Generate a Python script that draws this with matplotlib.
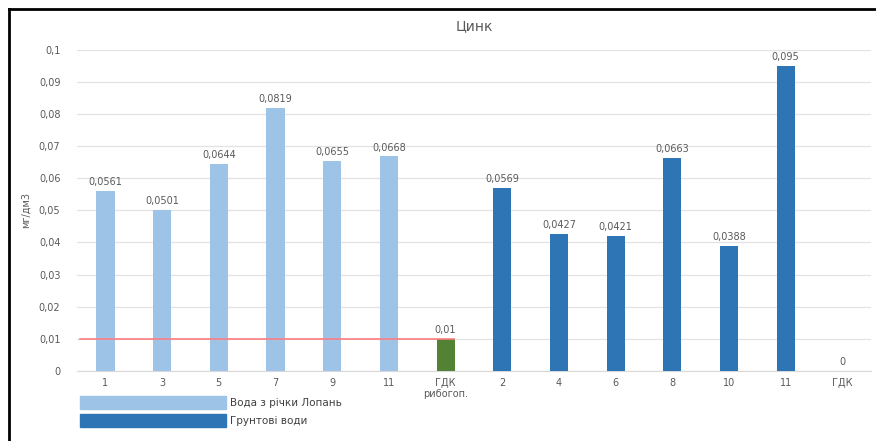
import matplotlib.pyplot as plt
from matplotlib.lines import Line2D
from matplotlib.patches import Patch

# data
categories = ['1', '3', '5', '7', '9', '11', 'ГДК\nрибогоп.',
              '2', '4', '6', '8', '10', '11', 'ГДК']
values = [0.0561, 0.0501, 0.0644, 0.0819, 0.0655, 0.0668, 0.01,
          0.0569, 0.0427, 0.0421, 0.0663, 0.0388, 0.095, 0]
labels = ['0,0561', '0,0501', '0,0644', '0,0819', '0,0655', '0,0668', '0,01',
          '0,0569', '0,0427', '0,0421', '0,0663', '0,0388', '0,095', '0']
group = ['river'] * 6 + ['gdk'] + ['ground'] * 6 + ['gdk']
gdk_level = 0.01

colors = {'river': '#9DC3E6', 'ground': '#2E75B6', 'gdk': '#548235'}
gray = '#595959'

fig = plt.figure(figsize=(8.76, 4.41), dpi=100)
ax = fig.add_axes([0.088, 0.159, 0.906, 0.728])

x = list(range(len(categories)))
bars = ax.bar(x, values, width=0.32, color=[colors[g] for g in group], zorder=3)

for xi, v, lab in zip(x, values, labels):
    ax.text(xi, v + 0.0012, lab, ha='center', va='bottom', fontsize=7, color=gray)

# red reference line for the river part
ax.plot([-0.45, 6.15], [gdk_level, gdk_level], color='#FF7C80', lw=1.2, zorder=4)

ax.set_xlim(-0.5, len(categories) - 0.5)
ax.set_ylim(0, 0.1)
yt = [i / 100 for i in range(11)]
ax.set_yticks(yt)
ax.set_yticklabels(['0'] + [('%g' % t).replace('.', ',') for t in yt[1:]])
ax.set_xticks(x)
ax.set_xticklabels(categories)
ax.tick_params(axis='both', length=0, labelsize=7, colors=gray)
ax.tick_params(axis='x', pad=5)
ax.tick_params(axis='y', pad=12)
ax.grid(axis='y', color='#E3E3E3', lw=0.9, zorder=0)
for s in ['top', 'right', 'left']:
    ax.spines[s].set_visible(False)
ax.spines['bottom'].set_color('#D9D9D9')

ax.set_ylabel('мг/дм3', fontsize=7, color=gray, labelpad=6)
ax.set_title('Цинк', fontsize=10, color=gray, pad=14)

handles = [Patch(color=colors['river'], label='Вода з річки Лопань'),
           Patch(color=colors['ground'], label='Грунтові води')]
fig.legend(handles=handles, loc='upper left', bbox_to_anchor=(0.091, 0.102),
           frameon=False, fontsize=7.5, handlelength=14.0, handleheight=1.6,
           handletextpad=0.45, labelspacing=0.45, labelcolor='#404040',
           borderaxespad=0, borderpad=0)

# frame lines (left and top)
fig.add_artist(Line2D([0.010, 0.010], [0, 0.980], color='black', lw=2,
                      transform=fig.transFigure))
fig.add_artist(Line2D([0.010, 1.0], [0.980, 0.980], color='black', lw=2,
                      transform=fig.transFigure))

fig.savefig('out.png', dpi=100)
